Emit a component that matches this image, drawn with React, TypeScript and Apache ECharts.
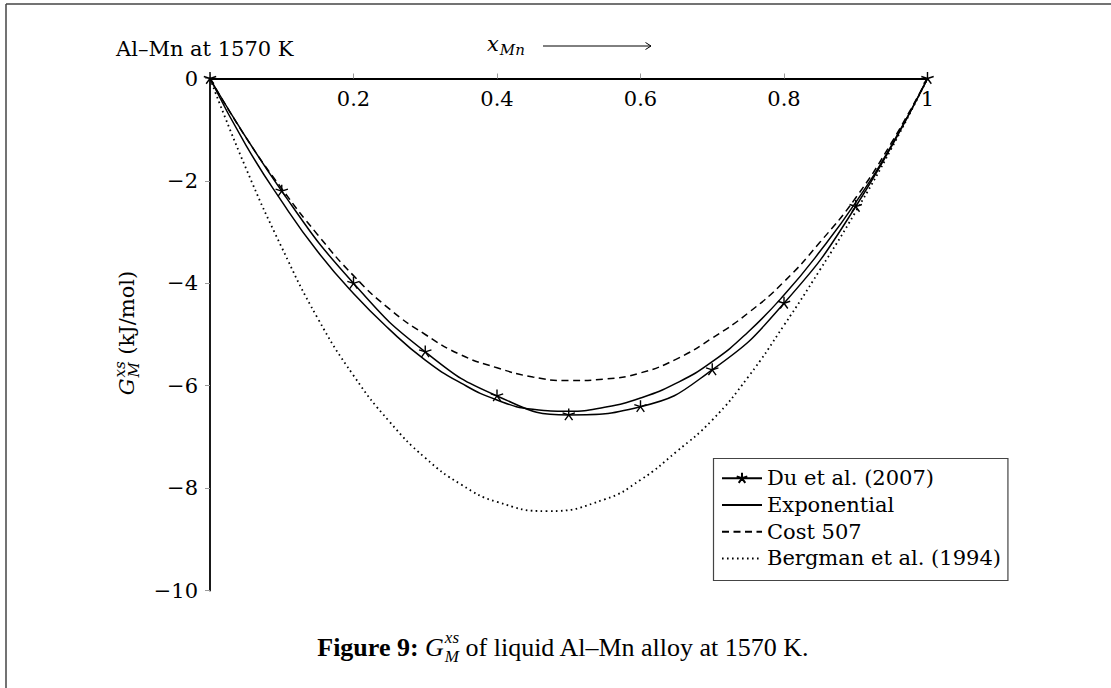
import React, { useEffect, useRef } from "react";
import * as echarts from "echarts";

// ---- data ----
const xTickValues = [0, 0.2, 0.4, 0.6, 0.8, 1];
const yTickValues = [-10, -8, -6, -4, -2, 0];

const seriesNames = ["Du et al. (2007)", "Exponential", "Cost 507", "Bergman et al. (1994)"];

const duX = [0, 0.1, 0.2, 0.3, 0.4, 0.5, 0.6, 0.7, 0.8, 0.9, 1];
const duY = [0, -2.2, -4.0, -5.34, -6.2, -6.57, -6.41, -5.69, -4.39, -2.5, 0];

const curveX = [0, 0.05, 0.1, 0.15, 0.2, 0.25, 0.3, 0.35, 0.4, 0.45, 0.5, 0.55, 0.6, 0.65, 0.7, 0.75, 0.8, 0.85, 0.9, 0.95, 1];
const expY = [0, -1.3, -2.4, -3.38, -4.2, -4.9, -5.5, -5.95, -6.28, -6.46, -6.5, -6.42, -6.24, -5.95, -5.53, -4.95, -4.23, -3.38, -2.42, -1.3, 0];
const costY = [0, -1.15, -2.15, -3.05, -3.85, -4.5, -5.0, -5.4, -5.65, -5.83, -5.9, -5.87, -5.75, -5.48, -5.07, -4.58, -3.97, -3.2, -2.33, -1.25, 0];

const bergX = [0, 0.05, 0.1, 0.15, 0.2, 0.25, 0.3, 0.35, 0.4, 0.47, 0.55, 0.6, 0.65, 0.7, 0.75, 0.8, 0.85, 0.9, 0.95, 1];
const bergY = [0, -1.75, -3.3, -4.68, -5.8, -6.7, -7.41, -7.93, -8.27, -8.45, -8.22, -7.84, -7.29, -6.67, -5.83, -4.82, -3.74, -2.6, -1.36, 0];

const FONT = "DejaVu Serif";
const CAP_FONT = "Liberation Serif";
const BLACK = "#000";

const asterisk =
  "path://M0 0L0 -10M0 0L-9.511 -3.09M0 0L-5.878 8.09M0 0L5.878 8.09M0 0L9.511 -3.09M0 10L0 10M-10 0L-10 0M10 0L10 0";

function pairs(xs: number[], ys: number[]) {
  return xs.map((x, i) => [x, ys[i]]);
}

export default function App() {
  const ref = useRef<HTMLDivElement>(null);

  useEffect(() => {
    if (!ref.current) return;
    const chart = echarts.init(ref.current, undefined, { renderer: "svg" });

    const ctx = document.createElement("canvas").getContext("2d") as CanvasRenderingContext2D;
    const tw = (t: string, size: number, family: string, style = "normal", weight = "normal") => {
      ctx.font = `${style} ${weight} ${size}px "${family}"`;
      return ctx.measureText(t).width;
    };

    const txt = (
      text: string,
      x: number,
      y: number,
      size: number,
      family: string,
      extra: Record<string, any> = {}
    ) => ({
      type: "text",
      x,
      y,
      silent: true,
      style: {
        text,
        fill: BLACK,
        fontSize: size,
        fontFamily: family,
        fontStyle: extra.fontStyle || "normal",
        fontWeight: extra.fontWeight || "normal",
        align: extra.align || "left",
        verticalAlign: "middle",
      },
    });

    // caption
    const capFs = 26;
    const capSc = 17;
    const capBase = 656.5;
    const capMid = capBase - 0.34 * capFs;
    const wFig = tw("Figure 9:", capFs, CAP_FONT, "normal", "bold");
    const wSp = tw(" ", capFs, CAP_FONT);
    const wG = tw("G", capFs, CAP_FONT, "italic");
    const wScr = Math.max(tw("xs", capSc, CAP_FONT, "italic"), tw("M", capSc, CAP_FONT, "italic"));
    const restCap = " of liquid Al\u2013Mn alloy at 1570 K.";
    const wRest = tw(restCap, capFs, CAP_FONT);
    const capTotal = wFig + wSp + wG + 1 + wScr + wRest;
    const capX0 = 810 - capTotal;
    const capG = capX0 + wFig + wSp;
    const capS = capG + wG + 1;

    // plot font
    const fs = 21;
    const sc = 15;

    // y axis title
    const yG = tw("G", fs, FONT, "italic");
    const yScr = Math.max(tw("xs", sc, FONT, "italic"), tw("M", sc, FONT, "italic"));
    const yRest = " (kJ/mol)";
    const yTot = yG + 1 + yScr + tw(yRest, fs, FONT);

    // x title
    const wx = tw("x", fs, FONT, "italic");
    const xStart = 487;

    // legend frame size
    const legTextLeft = 767;
    const legW = Math.max(...seriesNames.map((n) => tw(n, fs, FONT))) + legTextLeft + 7 - 713.5;

    const graphic: any[] = [
      // page frame (left and top)
      { type: "line", silent: true, shape: { x1: 6, y1: 4, x2: 6, y2: 688 }, style: { stroke: "#444", lineWidth: 1.5 } },
      { type: "line", silent: true, shape: { x1: 6, y1: 4, x2: 1111, y2: 4 }, style: { stroke: "#444", lineWidth: 1.5 } },
      // top-left note
      txt("Al\u2013Mn at 1570 K", 116, 56.7 - 0.36 * fs, fs, FONT),
      // x label
      txt("x", xStart, 51.5 - 0.36 * fs, fs, FONT, { fontStyle: "italic" }),
      txt("Mn", xStart + wx + 1, 55 - 0.36 * sc, sc, FONT, { fontStyle: "italic" }),
      {
        type: "line",
        silent: true,
        shape: { x1: 543, y1: 46, x2: 651, y2: 46 },
        style: { stroke: BLACK, lineWidth: 1 },
      },
      {
        type: "polyline",
        silent: true,
        shape: { points: [[645.5, 42.5], [651, 46], [645.5, 49.5]] },
        style: { stroke: BLACK, lineWidth: 1, fill: "none" },
      },
      // y axis title
      {
        type: "group",
        x: 127,
        y: 333 + yTot / 2,
        rotation: Math.PI / 2,
        silent: true,
        children: [
          txt("G", 0, 0, fs, FONT, { fontStyle: "italic" }),
          txt("xs", yG + 1, -7.5, sc, FONT, { fontStyle: "italic" }),
          txt("M", yG + 1, 7, sc, FONT, { fontStyle: "italic" }),
          txt(yRest, yG + 1 + yScr, 0, fs, FONT),
        ],
      },
      // legend frame
      {
        type: "rect",
        silent: true,
        z: 3,
        shape: { x: 713.5, y: 458.5, width: legW, height: 122 },
        style: { fill: "#fff", stroke: "#444", lineWidth: 1.2 },
      },
      // caption
      txt("Figure 9:", capX0, capMid, capFs, CAP_FONT, { fontWeight: "bold" }),
      txt("G", capG, capMid, capFs, CAP_FONT, { fontStyle: "italic" }),
      txt("xs", capS, capMid - 10, capSc, CAP_FONT, { fontStyle: "italic" }),
      txt("M", capS, capMid + 9, capSc, CAP_FONT, { fontStyle: "italic" }),
      txt(restCap, capS + wScr, capMid, capFs, CAP_FONT),
    ];

    const lineCommon = {
      type: "line",
      smooth: true,
      symbol: "none",
      color: BLACK,
      z: 2,
    };

    const hiddenSym = { color: "transparent", borderColor: "transparent", borderWidth: 0, opacity: 0 };

    chart.setOption({
      animation: false,
      backgroundColor: "#fff",
      grid: { left: 210, top: 78.5, width: 717.5, height: 512, containLabel: false },
      xAxis: {
        type: "value",
        min: xTickValues[0],
        max: xTickValues[xTickValues.length - 1],
        interval: 0.2,
        position: "top",
        axisLine: { onZero: false, lineStyle: { color: BLACK, width: 1.8 } },
        axisTick: { show: true, inside: false, length: 5, lineStyle: { color: "#9a9a9a", width: 1 } },
        axisLabel: {
          inside: true,
          margin: 10,
          fontFamily: FONT,
          fontSize: fs,
          color: BLACK,
          formatter: (v: number) => (Math.abs(v) < 1e-9 ? "" : String(Math.round(v * 10) / 10)),
        },
        splitLine: { show: false },
      },
      yAxis: {
        type: "value",
        min: yTickValues[0],
        max: yTickValues[yTickValues.length - 1],
        interval: 2,
        axisLine: { onZero: false, lineStyle: { color: BLACK, width: 1.8 } },
        axisTick: { show: true, inside: false, length: 5, lineStyle: { color: "#9a9a9a", width: 1 } },
        axisLabel: {
          margin: 12,
          fontFamily: FONT,
          fontSize: fs,
          color: BLACK,
          formatter: (v: number) => (v < 0 ? "\u2212" + Math.abs(v) : String(v)),
        },
        splitLine: { show: false },
      },
      legend: {
        orient: "vertical",
        left: 721,
        top: 467.8,
        padding: 0,
        itemGap: 5.7,
        itemWidth: 40,
        itemHeight: 14,
        selectedMode: false,
        z: 4,
        textStyle: { fontFamily: FONT, fontSize: fs, color: BLACK, lineHeight: 21 },
        data: [
          { name: seriesNames[0] },
          { name: seriesNames[1], itemStyle: hiddenSym },
          { name: seriesNames[2], itemStyle: hiddenSym },
          { name: seriesNames[3], itemStyle: hiddenSym },
        ],
      },
      graphic,
      series: [
        {
          ...lineCommon,
          name: seriesNames[0],
          data: pairs(duX, duY),
          symbol: asterisk,
          symbolSize: 13,
          symbolKeepAspect: true,
          showAllSymbol: true,
          itemStyle: { color: BLACK, borderColor: BLACK, borderWidth: 1.4 },
          lineStyle: { color: BLACK, width: 1.5 },
        },
        {
          ...lineCommon,
          name: seriesNames[1],
          data: pairs(curveX, expY),
          lineStyle: { color: BLACK, width: 1.5 },
        },
        {
          ...lineCommon,
          name: seriesNames[2],
          data: pairs(curveX, costY),
          lineStyle: { color: BLACK, width: 1.5, type: [7, 4.5] },
        },
        {
          ...lineCommon,
          name: seriesNames[3],
          data: pairs(bergX, bergY),
          lineStyle: { color: BLACK, width: 1.8, type: [1.6, 3.4] },
        },
      ],
    });

    return () => chart.dispose();
  }, []);

  return (
    <div
      ref={ref}
      style={{ position: "absolute", left: 0, top: 0, width: 1111, height: 688, background: "#fff" }}
    />
  );
}
